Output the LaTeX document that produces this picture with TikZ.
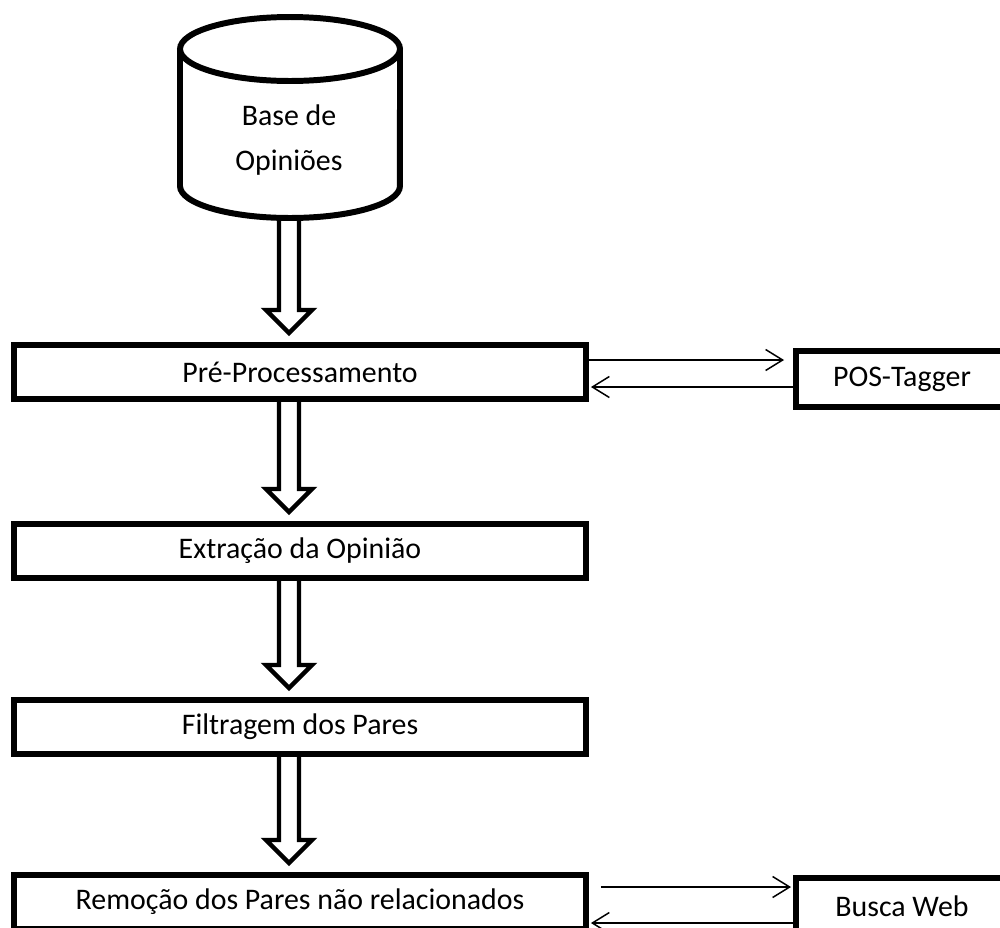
\documentclass[tikz,border=0pt]{standalone}
\usepackage{fontspec}
\setmainfont{Carlito}
\usetikzlibrary{calc, arrows.meta}

\newcommand{\hollowarrow}[2]{%
  \draw[hollow] ($(#1 -| db)+(-10,0)$) -- ($(#2 -| db)+(-10,32)$) -- ($(#2 -| db)+(-23,32)$)
  -- ($(#2 -| db)+(0,9)$) -- ($(#2 -| db)+(23,32)$) -- ($(#2 -| db)+(10,32)$) -- ($(#1 -| db)+(10,0)$);}

\begin{document}
\begin{tikzpicture}[x=0.02cm, y=0.02cm,
  every node/.style={font=\fontsize{17}{26}\selectfont},
  box/.style={draw, line width=3.4pt, minimum width=11.44cm, minimum height=1.08cm, inner sep=0pt},
  sidebox/.style={draw, line width=3.4pt, minimum width=4.24cm, minimum height=1.12cm, inner sep=0pt},
  hollow/.style={line width=2.5pt, line join=miter},
  thin/.style={line width=0.85pt, -{Straight Barb[length=0.34cm, width=0.42cm]}}]
  \useasboundingbox (0,0) rectangle (1000,-927);
  \clip (0,0) rectangle (1000,-927);
  % base de opinioes
  \draw[line width=3.4pt] (290,-49) ellipse [x radius=2.2cm, y radius=0.64cm];
  \draw[line width=3.4pt] (180,-49) -- (180,-186) arc[start angle=180, end angle=360, x radius=2.2cm, y radius=0.64cm] -- (400,-49);
  \node[align=center] (db) at (289,-140) {Base de\\Opiniões};
  \coordinate (dbb) at (289,-218);
  \path (300,-372) node[box] (pre) {Pré-Processamento}
  (300,-551) node[box] (ext) {Extração da Opinião}
  (300,-727) node[box] (fil) {Filtragem dos Pares}
  (300,-902) node[box] (rem) {Remoção dos Pares não relacionados}
  (902,-379) node[sidebox] (pos) {POS-Tagger}
  (902,-906) node[sidebox] (web) {Busca Web};
  \hollowarrow{dbb}{pre.north}
  \hollowarrow{pre.south}{ext.north}
  \hollowarrow{ext.south}{fil.north}
  \hollowarrow{fil.south}{rem.north}
  \draw[thin] ($(pre.east)+(0,12)$) -- ($(pos.west)+(-9,19)$);
  \draw[thin] ($(pos.west)+(0,-8)$) -- ($(pre.east)+(2,-15)$);
  \draw[thin] ($(rem.east)+(12,15)$) -- ($(web.west)+(-2,19)$);
  \draw[thin] ($(web.west)+(0,-17)$) -- ($(rem.east)+(2,-21)$);
\end{tikzpicture}
\end{document}
